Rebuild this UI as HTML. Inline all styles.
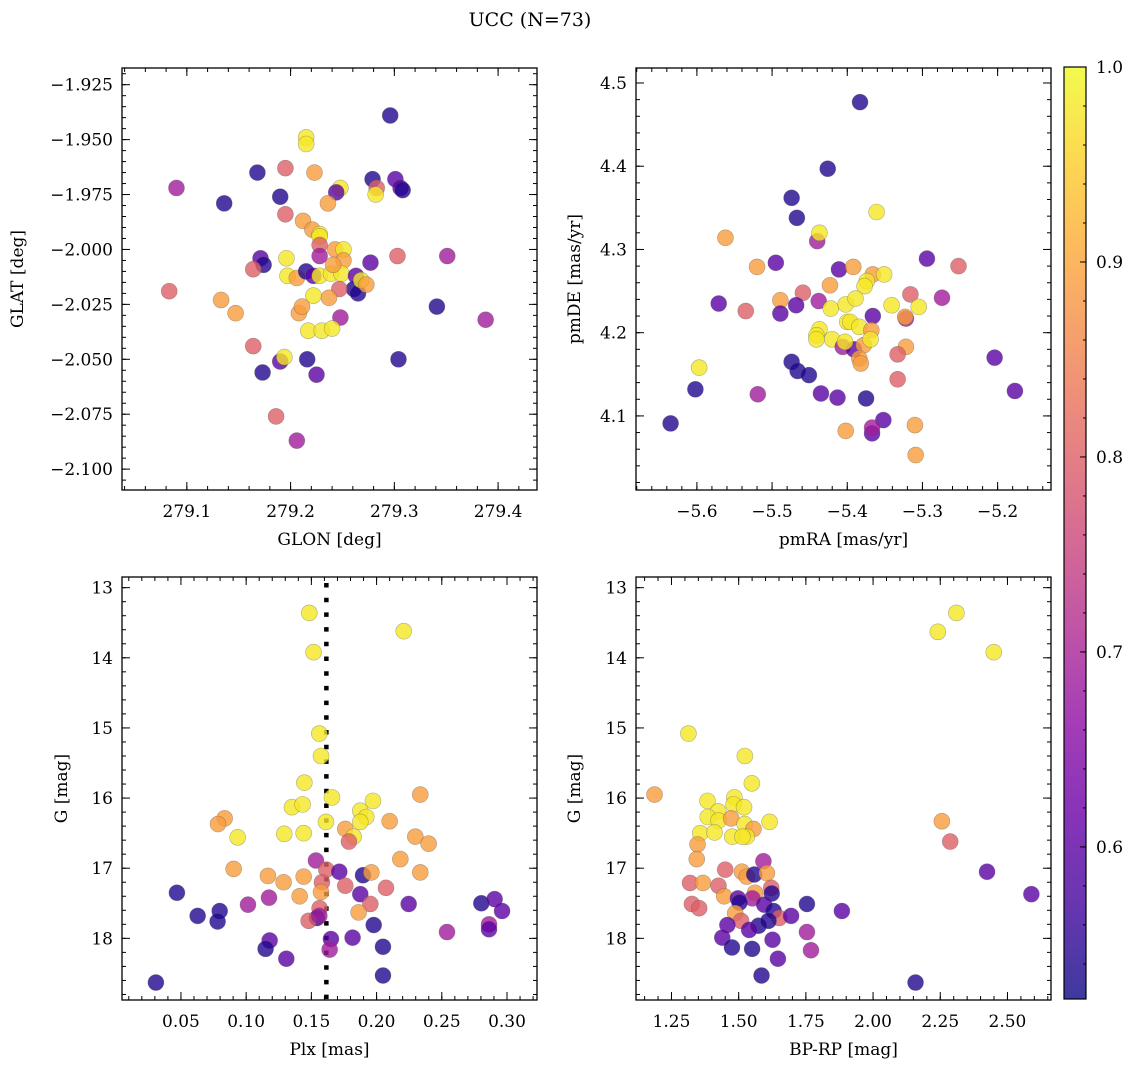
<!DOCTYPE html>
<html><head><meta charset="utf-8"><title>UCC (N=73)</title>
<style>
html,body{margin:0;padding:0;background:#fff;}
svg{display:block;font-family:"DejaVu Serif","Liberation Serif",serif;}
</style></head>
<body>
<svg id="fig" width="1136" height="1067" viewBox="0 0 1136 1067" xmlns="http://www.w3.org/2000/svg">
<rect x="0" y="0" width="1136" height="1067" fill="#fff"/>
<text x="530" y="26" font-size="19" text-anchor="middle">UCC (N=73)</text>
</svg>
<script>
// membership probability codes used in the arrays below
const D=0.54,P=0.60,M=0.69,S=0.80,O=0.89,Y=0.98;

// ---- Panel 1: GLON vs GLAT ----
const p1Glon=[279.215,279.215,279.296,279.090,279.136,279.168,279.195,279.223,279.190,279.279,279.301,279.306,279.308,279.283,279.282,279.248,279.244,279.236,279.195,279.212,279.221,279.228,279.228,279.228,279.228,279.243,279.251,279.251,279.171,279.174,279.164,279.196,279.197,279.206,279.215,279.222,279.228,279.239,279.249,279.241,279.263,279.277,279.303,279.351,279.083,279.261,279.265,279.268,279.273,279.247,279.222,279.237,279.133,279.147,279.208,279.211,279.248,279.341,279.388,279.217,279.230,279.240,279.164,279.190,279.194,279.216,279.173,279.225,279.304,279.186,279.206];
const p1Glat=[-1.949,-1.952,-1.939,-1.972,-1.979,-1.965,-1.963,-1.965,-1.976,-1.968,-1.968,-1.972,-1.973,-1.972,-1.975,-1.972,-1.974,-1.979,-1.984,-1.987,-1.991,-1.993,-1.994,-1.998,-2.003,-2.000,-2.000,-2.005,-2.004,-2.007,-2.009,-2.004,-2.012,-2.013,-2.010,-2.012,-2.012,-2.011,-2.011,-2.007,-2.012,-2.006,-2.003,-2.003,-2.019,-2.018,-2.020,-2.014,-2.016,-2.018,-2.021,-2.022,-2.023,-2.029,-2.029,-2.026,-2.031,-2.026,-2.032,-2.037,-2.037,-2.036,-2.044,-2.051,-2.049,-2.050,-2.056,-2.057,-2.050,-2.076,-2.087];
const p1Prob=[Y,Y,D,M,D,D,S,O,D,D,P,P,D,S,Y,Y,P,O,S,O,O,Y,Y,S,M,O,Y,O,P,D,S,Y,Y,O,D,P,Y,Y,Y,O,P,P,S,M,S,D,D,Y,O,S,Y,O,O,O,O,O,M,D,M,Y,Y,Y,S,P,Y,D,D,P,D,S,M];

// ---- Panel 2: pmRA vs pmDE ----
const p2Pmra=[-5.383,-5.426,-5.474,-5.467,-5.361,-5.440,-5.437,-5.562,-5.294,-5.520,-5.495,-5.411,-5.392,-5.252,-5.366,-5.351,-5.374,-5.377,-5.423,-5.459,-5.489,-5.571,-5.535,-5.468,-5.438,-5.489,-5.422,-5.402,-5.389,-5.316,-5.274,-5.341,-5.305,-5.366,-5.322,-5.323,-5.400,-5.396,-5.384,-5.368,-5.437,-5.441,-5.441,-5.420,-5.406,-5.391,-5.378,-5.403,-5.369,-5.322,-5.333,-5.384,-5.382,-5.474,-5.466,-5.451,-5.204,-5.597,-5.602,-5.519,-5.435,-5.413,-5.375,-5.333,-5.177,-5.635,-5.352,-5.402,-5.367,-5.367,-5.310,-5.309];
const p2Pmde=[4.477,4.397,4.362,4.338,4.345,4.310,4.320,4.314,4.289,4.279,4.284,4.276,4.279,4.280,4.270,4.270,4.262,4.256,4.257,4.248,4.239,4.235,4.226,4.233,4.238,4.223,4.229,4.234,4.241,4.246,4.242,4.233,4.231,4.220,4.217,4.219,4.213,4.213,4.207,4.203,4.204,4.197,4.192,4.192,4.183,4.180,4.185,4.189,4.192,4.183,4.174,4.169,4.163,4.165,4.154,4.149,4.170,4.158,4.132,4.126,4.127,4.122,4.121,4.144,4.130,4.091,4.095,4.082,4.079,4.086,4.089,4.053];
const p2Prob=[D,D,D,D,Y,M,Y,O,P,O,P,P,O,S,O,Y,Y,Y,O,S,O,P,S,P,M,P,Y,Y,Y,S,M,Y,Y,P,M,O,Y,Y,Y,O,Y,Y,Y,Y,M,P,O,Y,Y,O,S,O,O,D,D,D,P,Y,D,M,P,P,D,S,P,D,P,O,P,M,O,O];

// ---- Panel 3: Plx vs G ----
const p3Plx=[0.1484,0.2208,0.1517,0.1561,0.1574,0.1446,0.1658,0.2335,0.1351,0.1433,0.1972,0.1875,0.1921,0.1875,0.1612,0.0835,0.0784,0.0935,0.1292,0.1441,0.1760,0.1824,0.1788,0.2100,0.2297,0.2399,0.2182,0.0904,0.1535,0.1615,0.1714,0.1896,0.1960,0.2335,0.1167,0.1441,0.1287,0.1581,0.1760,0.2072,0.1574,0.1410,0.1875,0.1175,0.0469,0.1014,0.1952,0.2246,0.2803,0.2905,0.2962,0.1563,0.1862,0.0628,0.0797,0.0781,0.1543,0.1479,0.1561,0.1978,0.2540,0.2862,0.2862,0.1180,0.1149,0.1650,0.1640,0.1816,0.2049,0.1308,0.2049,0.0308];
const p3G=[13.36,13.62,13.92,15.08,15.40,15.78,15.99,15.95,16.13,16.09,16.04,16.18,16.27,16.34,16.34,16.29,16.37,16.56,16.51,16.50,16.44,16.55,16.62,16.33,16.55,16.65,16.87,17.01,16.89,17.02,17.05,17.10,17.06,17.06,17.11,17.12,17.20,17.20,17.25,17.28,17.34,17.40,17.37,17.42,17.35,17.52,17.51,17.51,17.50,17.44,17.61,17.57,17.63,17.68,17.61,17.76,17.71,17.75,17.68,17.81,17.91,17.80,17.87,18.03,18.15,18.01,18.16,17.99,18.12,18.29,18.53,18.63];
const p3Prob=[Y,Y,Y,Y,Y,Y,Y,O,Y,Y,Y,Y,Y,Y,Y,O,O,Y,Y,Y,O,Y,S,O,O,O,O,O,M,S,P,D,O,O,O,O,O,S,S,S,O,O,P,M,D,M,S,P,D,P,P,S,O,D,D,D,D,S,M,D,M,M,P,P,D,P,M,P,D,P,D,D];
const plxRef=[0.1615];

// ---- Panel 4: BP-RP vs G ----
const p4Bprp=[2.310,2.241,2.449,1.313,1.523,1.549,1.187,1.384,1.484,1.481,1.520,1.424,1.385,1.425,1.472,1.615,1.522,1.555,1.357,1.410,1.476,1.530,1.514,1.347,1.344,2.256,2.287,2.424,2.589,1.592,1.450,1.512,1.530,1.558,1.605,1.319,1.367,1.425,1.621,1.623,1.446,1.561,1.551,1.497,1.503,1.326,1.353,1.595,1.754,1.884,1.630,1.487,1.509,1.651,1.695,1.458,1.574,1.611,1.539,1.754,1.439,1.475,1.550,1.626,1.769,1.646,1.585,2.158];
const p4G=[13.36,13.63,13.92,15.08,15.40,15.79,15.95,16.04,15.99,16.09,16.13,16.19,16.27,16.32,16.29,16.34,16.37,16.44,16.50,16.49,16.55,16.55,16.55,16.66,16.87,16.33,16.62,17.05,17.37,16.90,17.02,17.05,17.12,17.09,17.07,17.21,17.21,17.25,17.28,17.36,17.40,17.35,17.43,17.43,17.49,17.51,17.57,17.52,17.51,17.61,17.61,17.64,17.75,17.71,17.68,17.81,17.82,17.75,17.88,17.91,17.99,18.13,18.15,18.02,18.17,18.29,18.53,18.63];
const p4Prob=[Y,Y,Y,Y,Y,Y,O,Y,Y,Y,Y,Y,Y,Y,O,Y,Y,O,Y,Y,Y,Y,Y,O,O,O,S,P,P,M,S,O,O,D,O,S,O,S,S,D,O,O,M,P,D,S,S,P,D,P,D,O,S,S,P,P,D,D,P,M,P,D,D,P,M,P,D,D];

// ---- Colorbar ----
const cbarRange=[0.522,1.0];
const cbarTicks=["0.6","0.7","0.8","0.9","1.0"];

const NS="http://www.w3.org/2000/svg";
const svg=document.getElementById('fig');
function mk(tag,attrs,parent){const e=document.createElementNS(NS,tag);for(const k in attrs)e.setAttribute(k,attrs[k]);(parent||svg).appendChild(e);return e;}

const plasmaStops=[[13,8,135],[65,4,157],[106,0,168],[143,13,164],[177,42,144],[204,71,120],[225,100,98],[242,132,75],[252,166,54],[252,206,37],[240,249,33]];
function plasma(t){t=Math.max(0,Math.min(1,t));const f=t*10;const i=Math.min(9,Math.floor(f));const r=f-i;const a=plasmaStops[i],b=plasmaStops[i+1];return 'rgb('+a.map((v,k)=>Math.round(v+(b[k]-v)*r)).join(',')+')';}
function colorOf(p){return plasma((p-cbarRange[0])/(cbarRange[1]-cbarRange[0]));}
function minus(s){return s.replace('-','\u2212');}

function panel(o){
  const g=mk('g',{});
  
  
  const W=o.r-o.l,H=o.b-o.t;
  const sx=v=>o.l+(v-o.xd[0])/(o.xd[1]-o.xd[0])*W;
  const sy=v=>o.t+(o.yd[0]-v)/(o.yd[0]-o.yd[1])*H;
  const tg=mk('g',{stroke:'#000','stroke-width':1},g);
  
  
  function ticksAxis(lo,hi,step,isX,len){
    const n0=Math.ceil(lo/step-1e-6),n1=Math.floor(hi/step+1e-6);
    for(let n=n0;n<=n1;n++){const v=n*step;
      if(isX){const x=sx(v);mk('line',{x1:x,x2:x,y1:o.b,y2:o.b-len},tg);mk('line',{x1:x,x2:x,y1:o.t,y2:o.t+len},tg);}
      else{const y=sy(v);mk('line',{x1:o.l,x2:o.l+len,y1:y,y2:y},tg);mk('line',{x1:o.r,x2:o.r-len,y1:y,y2:y},tg);}
    }
  }
  const xlo=Math.min(...o.xd),xhi=Math.max(...o.xd),ylo=Math.min(...o.yd),yhi=Math.max(...o.yd);
  ticksAxis(xlo,xhi,o.xminor,true,4);ticksAxis(xlo,xhi,o.xmajor,true,8);
  ticksAxis(ylo,yhi,o.yminor,false,4);ticksAxis(ylo,yhi,o.ymajor,false,8);
  o.xlabels.forEach(s=>{const v=parseFloat(s);const t=mk('text',{x:sx(v),y:o.b+27,'font-size':17,'text-anchor':'middle'},g);t.textContent=minus(s);
    
    });
  o.ylabels.forEach(s=>{const v=parseFloat(s);const t=mk('text',{x:o.l-9,y:sy(v)+6,'font-size':17,'text-anchor':'end'},g);t.textContent=minus(s);
    
    });
  const xt=mk('text',{x:(o.l+o.r)/2,y:o.b+55,'font-size':17,'text-anchor':'middle'},g);xt.textContent=o.xtitle;
  
  
  const yx=o.ytx,yy=(o.t+o.b)/2;
  const yt=mk('text',{x:yx,y:yy,'font-size':17,'text-anchor':'middle',transform:'rotate(-90 '+yx+' '+yy+')'},g);yt.textContent=o.ytitle;
  
  
  const cid='clip-'+o.name;
  const cp=mk('clipPath',{id:cid},g);mk('rect',{x:o.l,y:o.t,width:W,height:H},cp);
  const pg=mk('g',{'clip-path':'url(#'+cid+')'},g);
  
  
  if(o.vline){o.vline.forEach(v=>{const l=mk('line',{x1:sx(v),x2:sx(v),y1:o.t+6,y2:o.b,stroke:'#000','stroke-width':4.5,'stroke-dasharray':'4.5 10.2'},pg);
    
    });}
  for(let i=0;i<o.xs.length;i++){
    const c=mk('circle',{cx:sx(o.xs[i]),cy:sy(o.ys[i]),r:8,fill:colorOf(o.ps[i]),'fill-opacity':0.8,stroke:'#555','stroke-opacity':0.45,'stroke-width':0.6},pg);
    
    
  }
  const fr=mk('rect',{x:o.l,y:o.t,width:W,height:H,fill:'none',stroke:'#000','stroke-width':1.3},g);
  
  
}

panel({name:'glon-glat-panel',l:122,r:537,t:68,b:490,xd:[279.0375,279.4375],yd:[-1.9174,-2.1095],
  xmajor:0.1,xminor:0.02,ymajor:0.025,yminor:0.005,
  xlabels:['279.1','279.2','279.3','279.4'],ylabels:['-1.925','-1.950','-1.975','-2.000','-2.025','-2.050','-2.075','-2.100'],
  xtitle:'GLON [deg]',ytitle:'GLAT [deg]',ytx:23,xs:p1Glon,ys:p1Glat,ps:p1Prob});
panel({name:'pm-panel',l:636,r:1051,t:68,b:490,xd:[-5.681,-5.129],yd:[4.518,4.011],
  xmajor:0.1,xminor:0.02,ymajor:0.1,yminor:0.02,
  xlabels:['-5.6','-5.5','-5.4','-5.3','-5.2'],ylabels:['4.1','4.2','4.3','4.4','4.5'],
  xtitle:'pmRA [mas/yr]',ytitle:'pmDE [mas/yr]',ytx:580,xs:p2Pmra,ys:p2Pmde,ps:p2Prob});
panel({name:'plx-g-panel',l:122,r:537,t:577,b:1000,xd:[0.0048,0.323],yd:[12.848,18.879],
  xmajor:0.05,xminor:0.01,ymajor:1,yminor:0.2,
  xlabels:['0.05','0.10','0.15','0.20','0.25','0.30'],ylabels:['13','14','15','16','17','18'],
  xtitle:'Plx [mas]',ytitle:'G [mag]',ytx:67,xs:p3Plx,ys:p3G,ps:p3Prob,vline:plxRef});
panel({name:'cmd-panel',l:636,r:1051,t:577,b:1000,xd:[1.118,2.662],yd:[12.848,18.879],
  xmajor:0.25,xminor:0.05,ymajor:1,yminor:0.2,
  xlabels:['1.25','1.50','1.75','2.00','2.25','2.50'],ylabels:['13','14','15','16','17','18'],
  xtitle:'BP-RP [mag]',ytitle:'G [mag]',ytx:580,xs:p4Bprp,ys:p4G,ps:p4Prob});

(function(){
  const l=1064,r=1086,t=67,b=999;
  const g=mk('g',{});
  
  
  const defs=mk('defs',{},g);
  const lg=mk('linearGradient',{id:'cbgrad',x1:0,y1:1,x2:0,y2:0},defs);
  for(let i=0;i<=20;i++){const f=i/20;const p=cbarRange[0]+f*(cbarRange[1]-cbarRange[0]);mk('stop',{offset:f,'stop-color':colorOf(p),'stop-opacity':0.8},lg);}
  mk('rect',{x:l,y:t,width:r-l,height:b-t,fill:'url(#cbgrad)'},g);
  const sy=v=>b-(v-cbarRange[0])/(cbarRange[1]-cbarRange[0])*(b-t);
  for(let n=Math.ceil(cbarRange[0]/0.02-1e-6);n<=Math.floor(cbarRange[1]/0.02+1e-6);n++){const y=sy(n*0.02);mk('line',{x1:r,x2:r-3,y1:y,y2:y,stroke:'#000','stroke-width':1},g);}
  cbarTicks.forEach(s=>{const v=parseFloat(s);const y=sy(v);mk('line',{x1:r,x2:r-6,y1:y,y2:y,stroke:'#000','stroke-width':1},g);
    const tx=mk('text',{x:r+10,y:y+6,'font-size':17},g);tx.textContent=s;
    
    });
  mk('rect',{x:l,y:t,width:r-l,height:b-t,fill:'none',stroke:'#000','stroke-width':1.2},g);
})();
</script>
</body></html>
